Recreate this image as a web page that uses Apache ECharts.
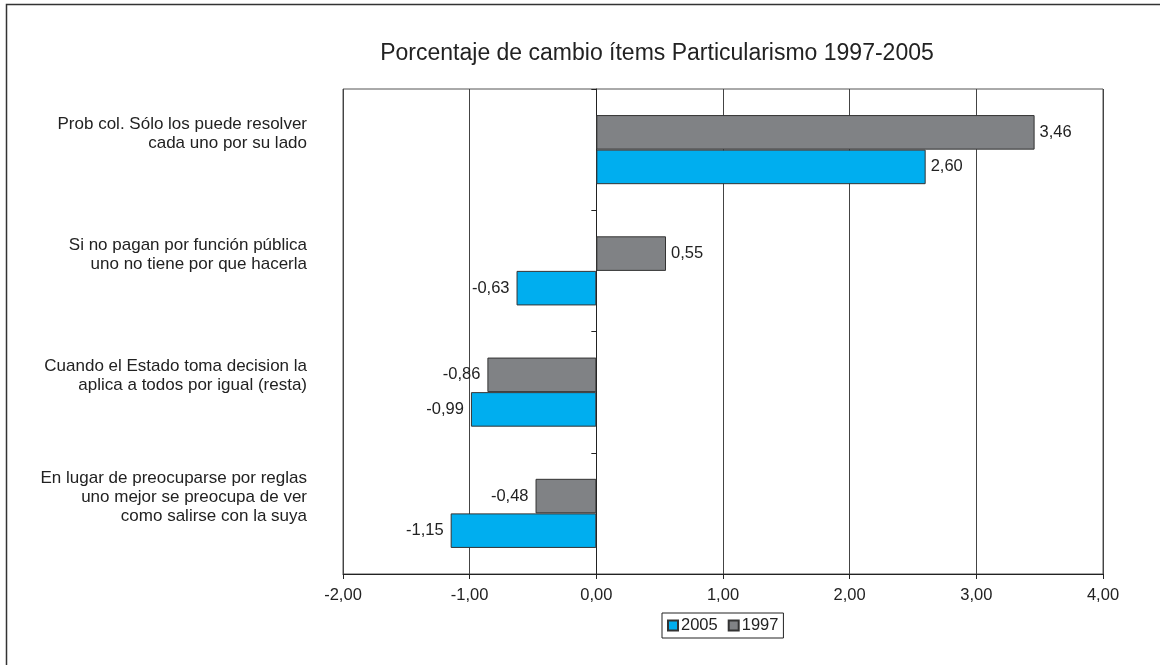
<!DOCTYPE html>
<html>
<head>
<meta charset="utf-8">
<script src="https://cdn.jsdelivr.net/npm/echarts@6/dist/echarts.min.js"></script>
<style>
  html, body { margin: 0; padding: 0; background: #fff; }
  #chart { width: 1160px; height: 665px; }
</style>
</head>
<body>
<div id="chart"></div>
<script>
'use strict';
var categories = [
  "Prob col. Sólo los puede resolver\ncada uno por su lado",
  "Si no pagan por función pública\nuno no tiene por que hacerla",
  "Cuando el Estado toma decision la\naplica a todos por igual (resta)",
  "En lugar de preocuparse por reglas\nuno mejor se preocupa de ver\ncomo salirse con la suya"
];
var values2005 = [2.60, -0.63, -0.99, -1.15];
var values1997 = [3.46, 0.55, -0.86, -0.48];
var xTicks = { min: -2, max: 4, interval: 1 };

var FONT = "Liberation Sans";
var fmt = function(v) { return v.toFixed(2).replace(".", ","); };

function withLabels(arr) {
  return arr.map(function(v) {
    return {
      value: v,
      label: { position: v < 0 ? "left" : "right", distance: v < 0 ? 7 : 5 }
    };
  });
}

var chart = echarts.init(document.getElementById("chart"));
chart.setOption({
  animation: false,
  backgroundColor: "#fff",
  textStyle: { fontFamily: FONT, color: "#222" },
  title: {
    text: "Porcentaje de cambio ítems Particularismo 1997-2005",
    left: 652, top: 37, textAlign: "center",
    textStyle: { fontFamily: FONT, fontSize: 23, fontWeight: "normal", color: "#222" }
  },
  graphic: [{
    type: "rect", silent: true,
    shape: { x: 6.5, y: 4.5, width: 1200, height: 700 },
    style: { fill: "none", stroke: "#333", lineWidth: 1.5 }
  }],
  legend: {
    data: ["2005", "1997"],
    left: 662, top: 613,
    icon: "rect", itemWidth: 10, itemHeight: 10, itemGap: 10,
    padding: [4, 5, 4, 5],
    borderColor: "#222", borderWidth: 1,
    textStyle: { fontFamily: FONT, fontSize: 16.5, color: "#222", padding: [0, 0, 0, -2] }
  },
  grid: {
    left: 343, right: 57, top: 89, bottom: 91,
    show: true, borderColor: "#555", borderWidth: 1
  },
  xAxis: {
    type: "value",
    min: xTicks.min, max: xTicks.max, interval: xTicks.interval,
    axisLine: { show: true, onZero: false, lineStyle: { color: "#222" } },
    axisTick: { show: true, length: 5, lineStyle: { color: "#222" } },
    axisLabel: { formatter: fmt, fontSize: 16.5, color: "#222", margin: 13, fontFamily: FONT },
    splitLine: { show: true, lineStyle: { color: "#444", width: 1 } }
  },
  yAxis: [{
    type: "category", data: categories, inverse: true, position: "left",
    axisLine: { show: false, onZero: false },
    axisTick: { show: false },
    axisLabel: {
      fontSize: 17, color: "#222", margin: 36, lineHeight: 19,
      align: "right", fontFamily: FONT,
      formatter: function(v) { return v + "\n{gap|}"; },
      rich: { gap: { lineHeight: 32, fontSize: 1 } }
    },
    splitLine: { show: false }
  }, {
    type: "category", data: categories, inverse: true, position: "left",
    axisLine: { show: true, onZero: true, lineStyle: { color: "#222" } },
    axisTick: { show: true, length: 5, lineStyle: { color: "#222" } },
    axisLabel: { show: false },
    splitLine: { show: false }
  }],
  series: [{
    name: "1997", type: "bar", data: withLabels(values1997),
    barGap: "0%", barCategoryGap: "43%",
    itemStyle: { color: "#808285", borderColor: "#333", borderWidth: 1 },
    label: { show: true, formatter: function(p) { return fmt(p.value); }, fontSize: 16.5, color: "#222", fontFamily: FONT }
  }, {
    name: "2005", type: "bar", data: withLabels(values2005),
    barGap: "0%", barCategoryGap: "43%",
    itemStyle: { color: "#00AEEF", borderColor: "#333", borderWidth: 1 },
    label: { show: true, formatter: function(p) { return fmt(p.value); }, fontSize: 16.5, color: "#222", fontFamily: FONT }
  }]
});
</script>
</body>
</html>
